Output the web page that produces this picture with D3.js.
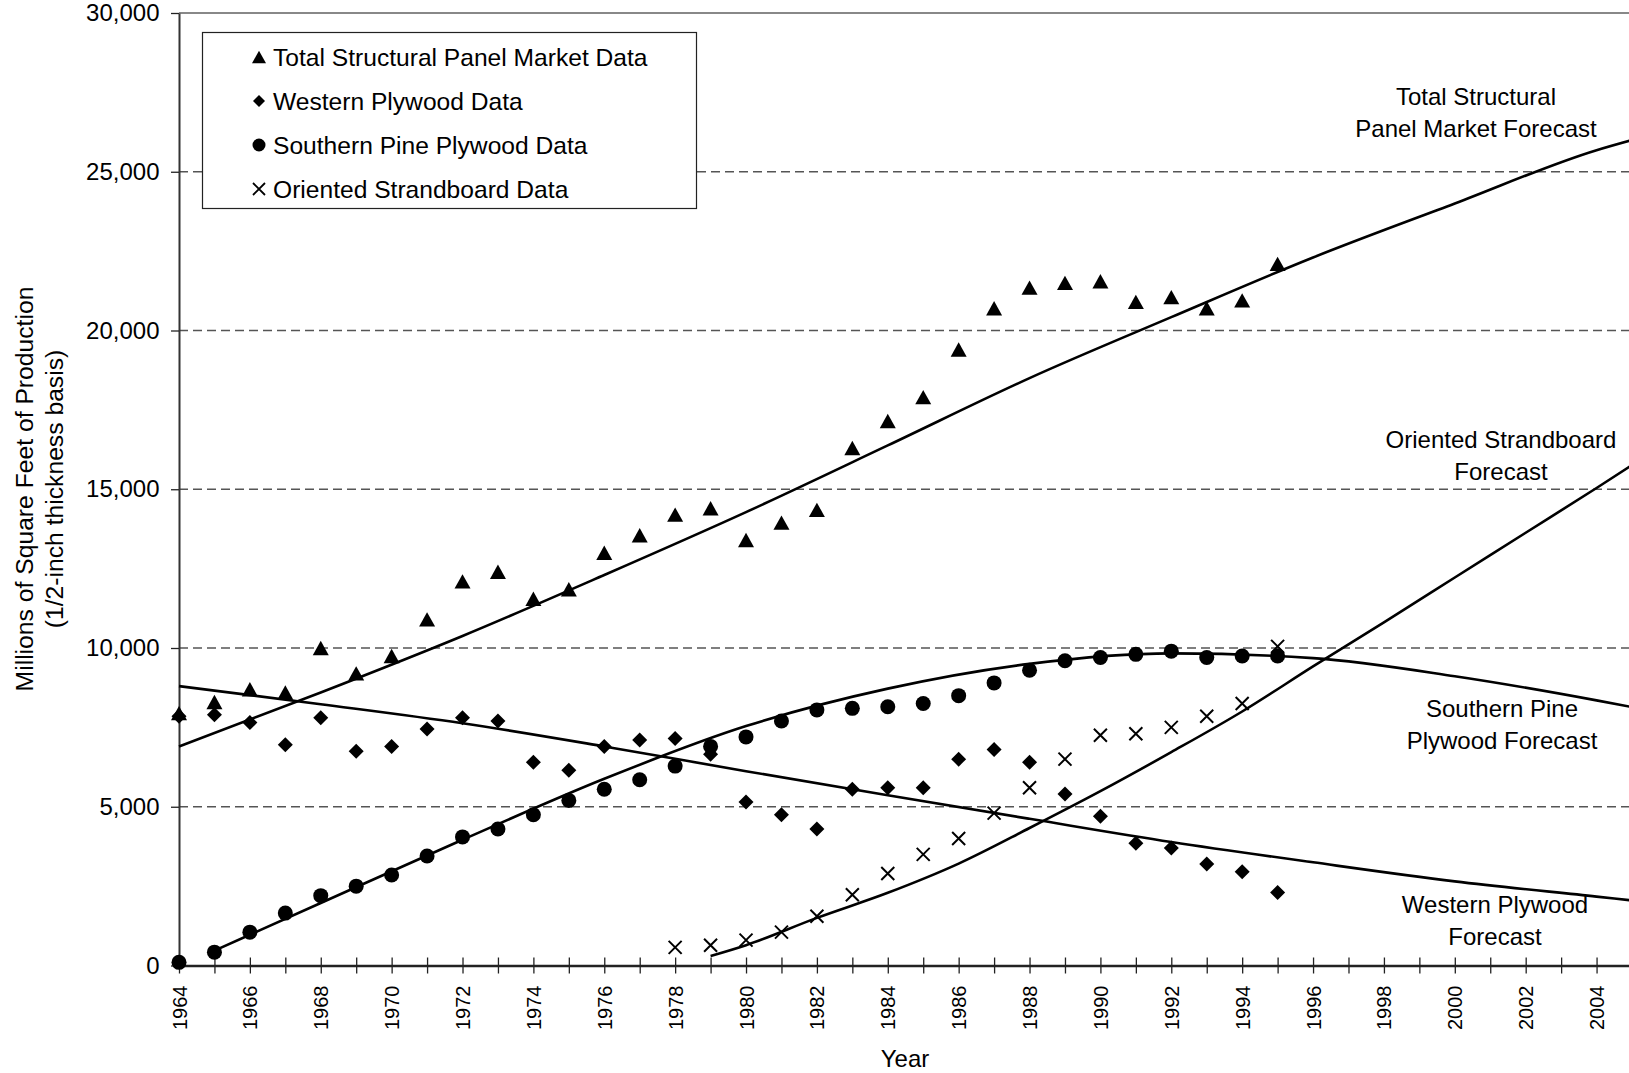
<!DOCTYPE html>
<html>
<head>
<meta charset="utf-8">
<script src="https://cdn.jsdelivr.net/npm/d3@7"></script>
<style>
  body { margin: 0; background: #fff; }
  text { font-family: "Liberation Sans", Arial, sans-serif; fill: #000; }
</style>
</head>
<body>
<script>
const width = 1629, height = 1073;

// observed data, 1964-1995
const dataYears = d3.range(1964, 1996);
const totalData = [7950, 8300, 8700, 8600, 10000, 9200, 9750, 10900, 12100, 12400, 11550, 11850, 13000, 13550, 14200, 14400,
  13400, 13950, 14350, 16300, 17150, 17900, 19400, 20700, 21350, 21500, 21550, 20900, 21050, 20700, 20950, 22100];
const westernData = [7850, 7900, 7650, 6950, 7800, 6750, 6900, 7450, 7800, 7700, 6400, 6150, 6900, 7100, 7150, 6650,
  5150, 4750, 4300, 5550, 5600, 5600, 6500, 6800, 6400, 5400, 4700, 3850, 3700, 3200, 2950, 2300];
const southernData = [100, 420, 1050, 1650, 2200, 2500, 2850, 3450, 4050, 4300, 4750, 5200, 5550, 5850, 6280, 6900,
  7200, 7700, 8050, 8100, 8150, 8250, 8500, 8900, 9300, 9600, 9700, 9800, 9900, 9700, 9750, 9750];
const osbYears = d3.range(1978, 1996);
const osbData = [570, 640, 800, 1050, 1550, 2230, 2900, 3500, 4000, 4800, 5600, 6500, 7250, 7300, 7500, 7850, 8250, 10050];

// forecast curves
const totalFcYears = [1964, 1968, 1972, 1976, 1980, 1984, 1988, 1992, 1996, 2000, 2004, 2005];
const totalFc = [6900, 8600, 10380, 12300, 14280, 16380, 18500, 20420, 22300, 24000, 25680, 26000];
const westernFcYears = [1964, 1968, 1972, 1976, 1980, 1984, 1988, 1992, 1996, 2000, 2004, 2005];
const westernFc = [8800, 8230, 7630, 6900, 6120, 5360, 4620, 3890, 3250, 2650, 2170, 2050];
const southernFcYears = [1965, 1968, 1972, 1976, 1980, 1984, 1988, 1992, 1996, 2000, 2004, 2005];
const southernFc = [470, 1970, 3960, 5880, 7540, 8720, 9500, 9830, 9680, 9110, 8350, 8140];
const osbFcYears = [1979, 1980, 1982, 1984, 1986, 1988, 1990, 1992, 1994, 1996, 1998, 2000, 2002, 2004, 2005];
const osbFc = [300, 640, 1500, 2290, 3210, 4330, 5490, 6720, 8000, 9420, 10810, 12220, 13630, 15040, 15760];

const yTicks = [0, 5000, 10000, 15000, 20000, 25000, 30000];
const xTicks = d3.range(1964, 2006);
const legendLabels = ["Total Structural Panel Market Data", "Western Plywood Data",
  "Southern Pine Plywood Data", "Oriented Strandboard Data"];

const svg = d3.select("body").append("svg")
  .attr("width", width)
  .attr("height", height);

const x = d3.scaleLinear().domain([1964, 2005]).range([179, 1632]);
const y = d3.scaleLinear().domain([0, 30000]).range([965.5, 13]);

// gridlines
svg.append("g").selectAll("line")
  .data(yTicks.filter(d => d > 0 && d < 30000))
  .join("line")
  .attr("x1", x(1964)).attr("x2", width)
  .attr("y1", d => y(d)).attr("y2", d => y(d))
  .attr("stroke", "#555").attr("stroke-width", 1.3)
  .attr("stroke-dasharray", "9,5");

svg.append("line")
  .attr("x1", x(1964)).attr("x2", width)
  .attr("y1", y(30000)).attr("y2", y(30000))
  .attr("stroke", "#888").attr("stroke-width", 2);

// y axis
const yAxis = svg.append("g")
  .attr("transform", `translate(${x(1964)},0)`)
  .call(d3.axisLeft(y).tickValues(yTicks).tickFormat(d3.format(",")).tickSize(8).tickPadding(11.5).tickSizeOuter(0));
yAxis.select(".domain").attr("stroke", "#333").attr("stroke-width", 2);
yAxis.selectAll(".tick line").attr("stroke", "#222").attr("stroke-width", 1.3);
yAxis.selectAll(".tick text").attr("font-size", 24).attr("fill", "#000");

// x axis
const xAxis = svg.append("g")
  .attr("transform", `translate(0,${y(0)})`)
  .call(d3.axisBottom(x).tickValues(xTicks).tickSize(8).tickSizeOuter(0)
    .tickFormat(d => d % 2 === 0 ? d : ""));
xAxis.select(".domain").attr("stroke", "#222").attr("stroke-width", 2.5);
xAxis.selectAll(".tick line").attr("y1", -8).attr("stroke", "#222").attr("stroke-width", 1.3);
xAxis.selectAll(".tick text")
  .attr("font-size", 20)
  .attr("transform", "rotate(-90)")
  .attr("x", -20).attr("y", 0).attr("dy", "0.35em")
  .style("text-anchor", "end");

// axis titles
svg.append("text")
  .attr("transform", "translate(32.5,489) rotate(-90)")
  .attr("text-anchor", "middle").attr("font-size", 24.7).attr("fill", "#222")
  .text("Millions of Square Feet of Production");
svg.append("text")
  .attr("transform", "translate(62.5,489) rotate(-90)")
  .attr("text-anchor", "middle").attr("font-size", 24.7).attr("fill", "#222")
  .text("(1/2-inch thickness basis)");
svg.append("text")
  .attr("x", 905).attr("y", 1067)
  .attr("text-anchor", "middle").attr("font-size", 24)
  .text("Year");

// forecast curves
const line = d3.line()
  .x(d => x(d[0]))
  .y(d => y(d[1]))
  .curve(d3.curveMonotoneX);

const curves = [
  d3.zip(totalFcYears, totalFc),
  d3.zip(westernFcYears, westernFc),
  d3.zip(southernFcYears, southernFc),
  d3.zip(osbFcYears, osbFc)
];
svg.append("g").selectAll("path")
  .data(curves)
  .join("path")
  .attr("d", line)
  .attr("fill", "none")
  .attr("stroke", "#000")
  .attr("stroke-width", 2.6);

// marker shapes
function triangle(s) { return `M0,${-s * 0.45}L${s / 2},${s * 0.45}L${-s / 2},${s * 0.45}Z`; }
function diamond(s) { return `M0,${-s / 2}L${s / 2},0L0,${s / 2}L${-s / 2},0Z`; }
function cross(s) { const h = s / 2; return `M${-h},${-h}L${h},${h}M${-h},${h}L${h},${-h}`; }

svg.append("g").selectAll("path")
  .data(d3.zip(dataYears, totalData))
  .join("path")
  .attr("transform", d => `translate(${x(d[0])},${y(d[1])})`)
  .attr("d", triangle(16));

svg.append("g").selectAll("path")
  .data(d3.zip(dataYears, westernData))
  .join("path")
  .attr("transform", d => `translate(${x(d[0])},${y(d[1])})`)
  .attr("d", diamond(15));

svg.append("g").selectAll("circle")
  .data(d3.zip(dataYears, southernData))
  .join("circle")
  .attr("cx", d => x(d[0]))
  .attr("cy", d => y(d[1]))
  .attr("r", 7.5);

svg.append("g").selectAll("path")
  .data(d3.zip(osbYears, osbData))
  .join("path")
  .attr("transform", d => `translate(${x(d[0])},${y(d[1])})`)
  .attr("d", cross(13))
  .attr("fill", "none").attr("stroke", "#000").attr("stroke-width", 2);

// forecast labels
const fcLabels = [
  { lines: ["Total Structural", "Panel Market Forecast"], cx: 1476, y: 105 },
  { lines: ["Oriented Strandboard", "Forecast"], cx: 1501, y: 448 },
  { lines: ["Southern Pine", "Plywood Forecast"], cx: 1502, y: 717 },
  { lines: ["Western Plywood", "Forecast"], cx: 1495, y: 913 }
];
fcLabels.forEach(l => {
  svg.append("text")
    .attr("text-anchor", "middle").attr("font-size", 24)
    .selectAll("tspan")
    .data(l.lines)
    .join("tspan")
    .attr("x", l.cx)
    .attr("y", (d, i) => l.y + i * 32)
    .text(d => d);
});

// legend
const legend = svg.append("g");
legend.append("rect")
  .attr("x", 202.5).attr("y", 32.5)
  .attr("width", 494).attr("height", 176)
  .attr("fill", "#fff").attr("stroke", "#222").attr("stroke-width", 1.2);

const legendShapes = [triangle(14), diamond(12), null, cross(12)];
legendLabels.forEach((lab, i) => {
  const by = 66 + i * 44;
  const g = legend.append("g").attr("transform", `translate(259,${by - 9})`);
  if (i === 2) g.append("circle").attr("r", 6.5);
  else if (i === 3) g.append("path").attr("d", legendShapes[i]).attr("fill", "none").attr("stroke", "#000").attr("stroke-width", 1.8);
  else g.append("path").attr("d", legendShapes[i]);
  legend.append("text")
    .attr("x", 273).attr("y", by)
    .attr("font-size", 24.6)
    .text(lab);
});
</script>
</body>
</html>
